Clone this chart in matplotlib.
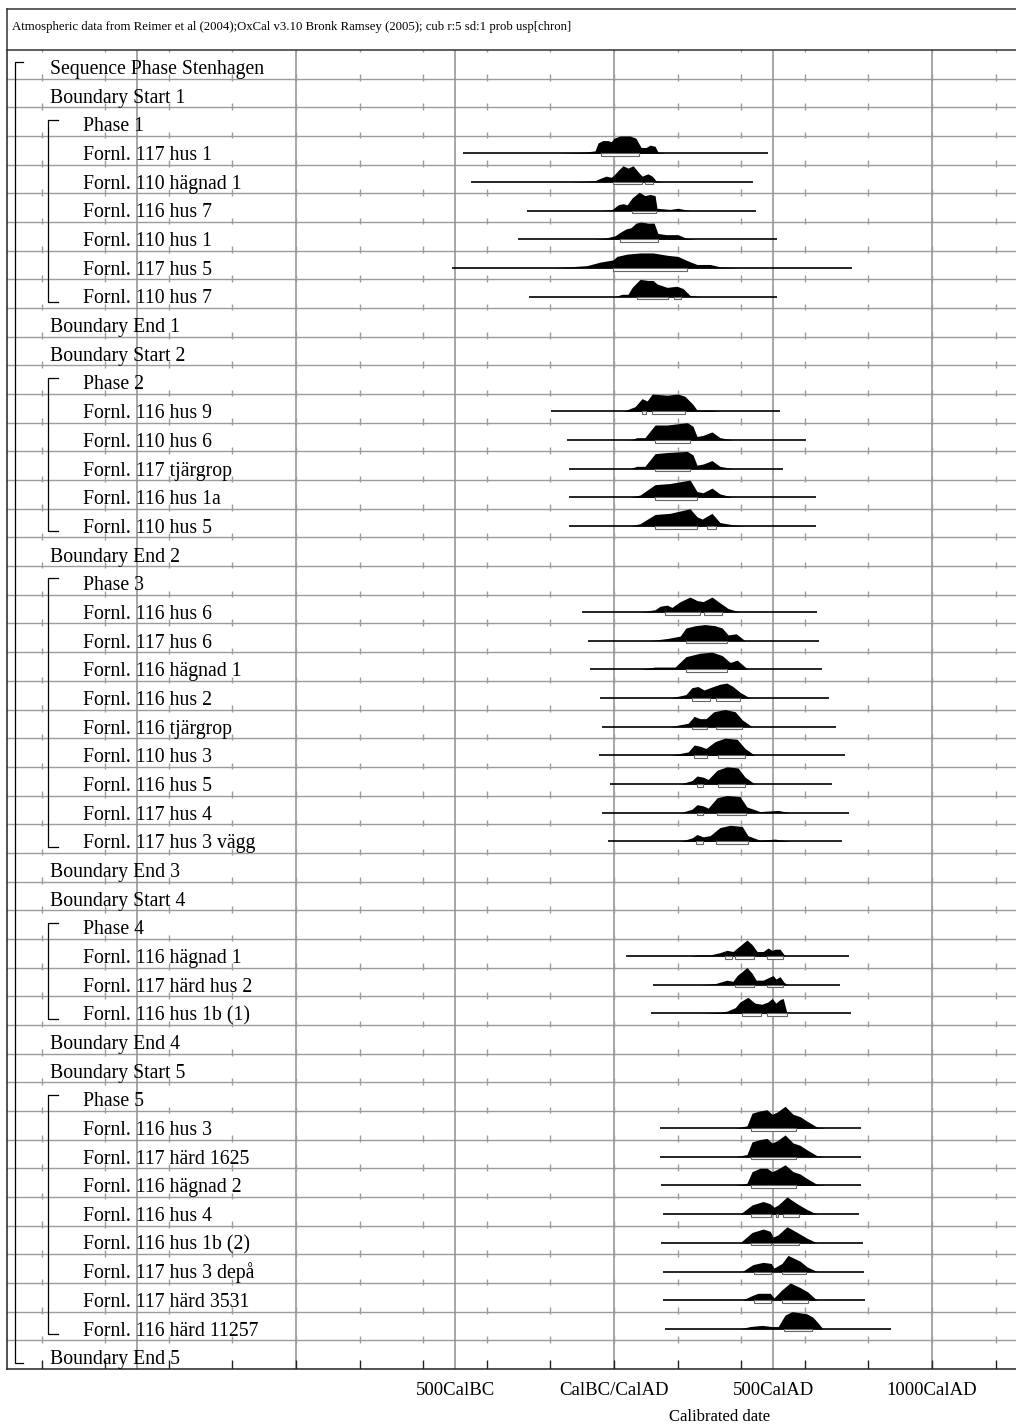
import numpy as np
import matplotlib
matplotlib.use("Agg")
import matplotlib.pyplot as plt
from matplotlib.patches import Rectangle
import matplotlib.transforms as mtransforms

plt.rcParams.update({
    "font.family": ["Liberation Serif", "DejaVu Serif"],
})

HEADER = ("Atmospheric data from Reimer et al (2004);OxCal v3.10 Bronk Ramsey "
          "(2005); cub r:5 sd:1 prob usp[chron]")

LABELS = [
    "Sequence Phase Stenhagen", "Boundary Start 1", "Phase 1",
    "Fornl. 117 hus 1", "Fornl. 110 hägnad 1", "Fornl. 116 hus 7",
    "Fornl. 110 hus 1", "Fornl. 117 hus 5", "Fornl. 110 hus 7",
    "Boundary End 1", "Boundary Start 2", "Phase 2",
    "Fornl. 116 hus 9", "Fornl. 110 hus 6", "Fornl. 117 tjärgrop",
    "Fornl. 116 hus 1a", "Fornl. 110 hus 5",
    "Boundary End 2", "Phase 3",
    "Fornl. 116 hus 6", "Fornl. 117 hus 6", "Fornl. 116 hägnad 1",
    "Fornl. 116 hus 2", "Fornl. 116 tjärgrop", "Fornl. 110 hus 3",
    "Fornl. 116 hus 5", "Fornl. 117 hus 4", "Fornl. 117 hus 3 vägg",
    "Boundary End 3", "Boundary Start 4", "Phase 4",
    "Fornl. 116 hägnad 1", "Fornl. 117 härd hus 2", "Fornl. 116 hus 1b (1)",
    "Boundary End 4", "Boundary Start 5", "Phase 5",
    "Fornl. 116 hus 3", "Fornl. 117 härd 1625", "Fornl. 116 hägnad 2",
    "Fornl. 116 hus 4", "Fornl. 116 hus 1b (2)", "Fornl. 117 hus 3 depå",
    "Fornl. 117 härd 3531", "Fornl. 116 härd 11257",
    "Boundary End 5",
]

# full extent of each dated item (cal years, BC negative)
SPANS = [
    (-475, 484), (-450, 437), (-274, 447), (-302, 513), (-510, 748), (-267, 513),
    (-198, 522), (-148, 604), (-142, 532), (-142, 635), (-142, 635),
    (-101, 638), (-82, 645), (-75, 654), (-44, 676), (-38, 698), (-47, 726),
    (-13, 686), (-38, 739), (-19, 717),
    (38, 739), (123, 711), (116, 745),
    (145, 777), (145, 777), (148, 777), (154, 770), (148, 783), (154, 786),
    (154, 789), (160, 871),
]

# posterior density outlines: years / relative heights
DENS_YEARS = [
    [-170, -91, -60, -50, -35, -19, -9, 0, 19, 50, 69, 85, 101, 113, 129, 138, 160],
    [-138, -60, -44, -25, -9, 0, 13, 28, 44, 60, 75, 88, 97, 107, 120, 132, 160],
    [-44, -6, 13, 28, 41, 57, 79, 97, 113, 129, 135, 176, 201, 239],
    [-60, -28, 3, 19, 38, 53, 69, 85, 107, 126, 138, 164, 201, 226, 255],
    [-192, -85, -44, -3, 9, 41, 82, 123, 167, 201, 233, 261, 302, 333, 396],
    [3, 25, 44, 57, 82, 107, 123, 135, 167, 198, 217, 239, 270],
    [28, 66, 88, 104, 120, 167, 201, 223, 248, 261, 311, 333],
    [50, 72, 97, 129, 167, 230, 248, 261, 280, 308, 333, 374],
    [50, 72, 97, 129, 167, 230, 248, 261, 280, 308, 333, 374],
    [50, 82, 129, 176, 239, 261, 280, 308, 333, 374],
    [50, 82, 129, 176, 239, 261, 277, 308, 333, 374, 412],
    [82, 129, 145, 167, 182, 208, 239, 261, 280, 308, 333, 359, 396],
    [113, 170, 208, 226, 255, 286, 318, 340, 359, 384, 412],
    [82, 129, 192, 226, 270, 308, 340, 365, 387, 421],
    [176, 226, 245, 264, 283, 302, 333, 355, 374, 396, 428],
    [176, 233, 252, 270, 289, 314, 349, 381, 403, 434],
    [176, 233, 252, 270, 289, 318, 349, 387, 412, 443],
    [208, 245, 261, 280, 296, 324, 355, 390, 412, 443],
    [208, 245, 261, 280, 296, 324, 355, 396, 418, 459, 516, 554],
    [208, 245, 261, 280, 302, 333, 365, 403, 421, 459, 506, 554],
    [239, 264, 302, 333, 355, 374, 396, 418, 434, 450, 469, 484, 497, 506, 522, 538],
    [270, 318, 355, 374, 387, 418, 434, 447, 469, 484, 500, 509, 522, 535, 547],
    [270, 333, 355, 381, 396, 421, 443, 465, 484, 497, 509, 522, 532, 544],
    [381, 418, 434, 459, 481, 497, 513, 538, 563, 585, 607, 638, 664],
    [381, 418, 434, 459, 481, 497, 513, 538, 563, 585, 607, 638, 664],
    [381, 418, 434, 459, 481, 497, 513, 538, 563, 585, 607, 638, 664],
    [396, 434, 469, 491, 503, 516, 544, 576, 607, 638],
    [396, 434, 469, 491, 500, 516, 544, 576, 607, 638],
    [403, 437, 469, 494, 503, 528, 547, 585, 607, 638],
    [403, 434, 453, 491, 503, 528, 554, 585, 610, 638],
    [396, 428, 465, 497, 516, 538, 560, 607, 626, 642, 657],
]
DENS_HEIGHT = [
    [0, 1, 2, 9, 11, 11, 10, 13, 15, 15, 13, 5, 5, 7, 6, 1, 0],
    [0, 1, 3, 5, 4, 6, 10, 14, 12, 14, 9, 5, 6, 7, 5, 1, 0],
    [0, 1, 5, 6, 5, 11, 16, 13, 14, 13, 2, 1, 2, 0],
    [0, 1, 3, 6, 9, 10, 14, 15, 14, 14, 5, 4, 4, 1, 0],
    [0, 2, 5, 7, 10, 12, 13, 13, 11, 10, 6, 3, 3, 1, 0],
    [0, 2, 2, 8, 15, 14, 14, 11, 8, 9, 7, 1, 0],
    [0, 4, 11, 9, 15, 14, 15, 13, 6, 1, 1, 0],
    [0, 2, 2, 13, 13, 15, 12, 3, 4, 7, 2, 0],
    [0, 2, 2, 13, 14, 15, 12, 3, 4, 7, 2, 0],
    [0, 2, 11, 12, 15, 5, 4, 8, 3, 0],
    [0, 2, 10, 11, 15, 8, 6, 11, 3, 1, 0],
    [0, 2, 5, 6, 4, 9, 13, 10, 9, 13, 8, 3, 0],
    [0, 2, 4, 11, 13, 14, 13, 11, 5, 6, 0],
    [0, 2, 2, 11, 14, 15, 12, 6, 8, 0],
    [0, 3, 9, 10, 7, 9, 12, 13, 10, 5, 0],
    [0, 3, 9, 7, 7, 13, 15, 13, 6, 0],
    [0, 3, 9, 8, 6, 12, 15, 14, 6, 0],
    [0, 3, 7, 6, 4, 12, 15, 14, 6, 0],
    [0, 3, 7, 6, 4, 13, 15, 14, 5, 1, 2, 0],
    [0, 3, 6, 4, 5, 12, 14, 13, 5, 1, 2, 0],
    [0, 1, 1, 3, 5, 4, 9, 14, 10, 4, 4, 7, 5, 6, 6, 0],
    [0, 1, 4, 3, 8, 15, 10, 4, 4, 6, 8, 5, 7, 2, 0],
    [0, 1, 2, 5, 10, 14, 9, 8, 10, 13, 9, 12, 13, 0],
    [0, 2, 13, 15, 16, 12, 14, 19, 12, 10, 6, 1, 0],
    [0, 2, 13, 15, 16, 12, 14, 19, 12, 10, 6, 1, 0],
    [0, 2, 12, 15, 15, 12, 14, 18, 12, 10, 6, 1, 0],
    [0, 8, 11, 9, 6, 8, 15, 9, 4, 0],
    [0, 9, 12, 10, 5, 7, 14, 9, 4, 0],
    [0, 6, 8, 7, 3, 7, 14, 9, 4, 0],
    [0, 4, 6, 6, 2, 9, 15, 11, 7, 0],
    [0, 2, 3, 2, 2, 12, 15, 13, 10, 5, 0],
]

# highest-probability ranges drawn below each density
RANGES = [
    [(-41, 79)], [(-3, 88), (97, 123)], [(57, 132)], [(19, 138)], [(-3, 230)],
    [(72, 170), (189, 211)],
    [(88, 101), (120, 223)], [(129, 239)], [(129, 239)], [(129, 261)],
    [(129, 261), (292, 321)],
    [(160, 270), (283, 340)], [(226, 355)], [(226, 355)], [(245, 302), (321, 396)],
    [(245, 292), (321, 403)], [(252, 292), (327, 412)], [(261, 280), (327, 412)],
    [(261, 280), (324, 415)], [(258, 280), (321, 421)],
    [(349, 371), (381, 440), (481, 532)], [(381, 440), (481, 532)],
    [(403, 462), (481, 544)],
    [(431, 572)], [(431, 572)], [(431, 572)], [(431, 494), (509, 516), (532, 582)],
    [(431, 494), (500, 582)], [(440, 494), (528, 604)], [(440, 494), (528, 610)],
    [(535, 623)],
]

MAJOR_YEARS = [-1500, -1000, -500, 0, 500, 1000]
MINOR_YEARS = list(range(-1800, 1201, 200))
AXIS_TICKS = [-500, 0, 500, 1000]
AXIS_LABELS = ["500CalBC", "CalBC/CalAD", "500CalAD", "1000CalAD"]

# ── geometry (reference is 1016 x 1428 px) ───────────────────────────────────
W, H = 1016, 1428
X0, TOP, BOT = 7, 50, 1369          # frame left, header bottom, axis line
XMIN, XMAX = -1909, 1264
NROW = len(LABELS)
H_SCALE = 1.15 / 28.65               # density units are reference pixels
GRID = "#9c9c9c"

fig = plt.figure(figsize=(W / 100, H / 100), dpi=100)
ax = fig.add_axes([X0 / W, 1 - BOT / H, (W - X0) / W, (BOT - TOP) / H])
ax.set_xlim(XMIN, XMAX)
ax.set_ylim(NROW, 0)
ax.set_xticks([])
ax.set_yticks([])
for s in ["top", "right"]:
    ax.spines[s].set_visible(False)
for s in ["left", "bottom"]:
    ax.spines[s].set_color("#222222")
    ax.spines[s].set_linewidth(1.1)

# grid
for k in range(1, NROW):
    ax.axhline(k, color=GRID, lw=1.0, zorder=1)
for yr in MAJOR_YEARS:
    ax.axvline(yr, color="#8f8f8f", lw=1.1, zorder=1)
for k in range(0, NROW):
    ax.vlines(MINOR_YEARS, k - 0.15, k + 0.08, color=GRID, lw=1.0, zorder=1)
ax.vlines(MINOR_YEARS, NROW - 0.32, NROW, color="#222222", lw=1.0, zorder=2)

# labels, brackets, densities
kind = []
for lab in LABELS:
    if lab.startswith("Sequence"):
        kind.append("seq")
    elif lab.startswith("Boundary"):
        kind.append("bound")
    elif lab.startswith("Phase"):
        kind.append("phase")
    else:
        kind.append("date")

tr = mtransforms.blended_transform_factory(ax.transAxes, ax.transData)
LAB_SIZE = 14.2
for i, (lab, kd) in enumerate(zip(LABELS, kind)):
    xs = 0.0426 if kd in ("seq", "bound") else 0.0753
    ax.text(xs, i + 0.84, lab, transform=tr, ha="left", va="baseline",
            fontsize=LAB_SIZE, color="black", zorder=5)


def bracket(x_v, x_h, r0, r1):
    y0, y1 = r0 + 0.43, r1 + 0.78
    ax.plot([x_h, x_v, x_v, x_h], [y0, y0, y1, y1], transform=tr,
            color="black", lw=0.9, zorder=4, clip_on=False)


bracket(0.0079, 0.0159, 0, NROW - 1)
for i, kd in enumerate(kind):
    if kd == "phase":
        j = i
        while j + 1 < NROW and kind[j + 1] == "date":
            j += 1
        bracket(0.0406, 0.0505, i, j)

date_rows = [i for i, kd in enumerate(kind) if kd == "date"]
for n, row in enumerate(date_rows):
    base = row + 0.6
    yrs = np.array(DENS_YEARS[n], dtype=float)
    hts = np.array(DENS_HEIGHT[n], dtype=float) * H_SCALE
    ax.fill_between(yrs, base, base - hts, color="black", lw=0, zorder=3)
    ax.plot(SPANS[n], [base, base], color="black", lw=1.2, zorder=3,
            solid_capstyle="butt")
    for a, b in RANGES[n]:
        ax.add_patch(Rectangle((a, base), b - a, 0.09, facecolor="white",
                               edgecolor="#666666", lw=0.8, zorder=3))

# axis labels
for yr, lab in zip(AXIS_TICKS, AXIS_LABELS):
    ax.text(yr, NROW + 0.76, lab, ha="center", va="center", fontsize=13.5,
            clip_on=False)
fig.text(720 / W, 1 - 1417 / H, "Calibrated date", ha="center", va="center",
         fontsize=12)

# header box
hax = fig.add_axes([X0 / W, 1 - TOP / H, (W - X0) / W, (TOP - 9) / H])
hax.set_xticks([])
hax.set_yticks([])
hax.spines["right"].set_visible(False)
for s in ["top", "left", "bottom"]:
    hax.spines[s].set_color("#333333")
    hax.spines[s].set_linewidth(1.1)
hax.text(5 / (W - X0), 0.55, HEADER, transform=hax.transAxes, ha="left",
         va="center", fontsize=9.2)

fig.savefig("out.png", dpi=100)
